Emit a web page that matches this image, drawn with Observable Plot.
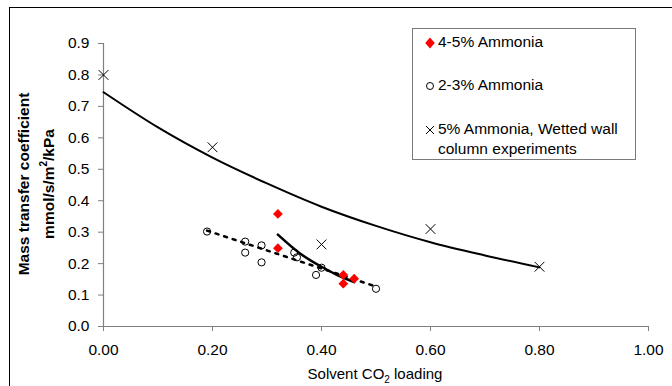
<!DOCTYPE html>
<html><head><meta charset="utf-8">
<script src="https://cdn.jsdelivr.net/npm/d3@7"></script>
<script src="https://cdn.jsdelivr.net/npm/@observablehq/plot@0.6"></script>
<style>
body{margin:0;background:#fff;font-family:"Liberation Sans",Arial,sans-serif;}
#wrap{position:relative;width:672px;height:386px;overflow:hidden;}
#frame{position:absolute;left:9px;top:7px;width:700px;height:400px;border-left:1.5px solid #000;border-top:1.5px solid #000;}
#legend{position:absolute;left:412px;top:28px;width:222px;height:130px;border:1.5px solid #7a7a7a;background:#fff;font-size:15.5px;color:#000;}
.li{position:absolute;left:12px;white-space:nowrap;}
.li svg{vertical-align:middle;margin-right:3px;}
#xlab{position:absolute;left:0;width:750px;top:365px;text-align:center;font-size:15px;}
.ylab{position:absolute;font-weight:bold;font-size:15.5px;white-space:nowrap;transform:translate(-50%,-50%) rotate(-90deg);}
</style></head>
<body><div id="wrap"><div id="frame"></div><div id="chart"></div>
<div id="legend">
 <div class="li" style="top:4px"><svg width="10" height="12"><path d="M5,0.5L9.8,6L5,11.5L0.2,6Z" fill="#ff0000"/></svg>4-5% Ammonia</div>
 <div class="li" style="top:47px"><svg width="10" height="12"><circle cx="5" cy="6" r="3.5" fill="none" stroke="#000"/></svg>2-3% Ammonia</div>
 <div class="li" style="top:90px;line-height:20px"><svg width="10" height="12"><path d="M1,2L9,10M9,2L1,10" stroke="#000" stroke-width="1"/></svg>5% Ammonia, Wetted wall<br><span style="padding-left:13px">column experiments</span></div>
</div>
<div id="xlab">Solvent CO<sub style="font-size:10px">2</sub> loading</div>
<div class="ylab" style="left:24px;top:184px">Mass transfer coefficient</div>
<div class="ylab" style="left:48px;top:184px">mmol/s/m<sup style="font-size:10px">2</sup>/kPa</div>
</div>
<script>
// 4-5% Ammonia (red diamonds)
const a45X = [0.32, 0.32, 0.44, 0.46, 0.44];
const a45Y = [0.358, 0.249, 0.164, 0.152, 0.136];
// 2-3% Ammonia (open circles)
const a23X = [0.19, 0.26, 0.26, 0.29, 0.29, 0.35, 0.355, 0.39, 0.40, 0.50];
const a23Y = [0.302, 0.270, 0.235, 0.258, 0.204, 0.235, 0.220, 0.164, 0.187, 0.120];
// 5% Ammonia, wetted wall column (crosses)
const wwX = [0.00, 0.20, 0.40, 0.60, 0.80];
const wwY = [0.80, 0.57, 0.261, 0.31, 0.19];
// fitted curve for wetted wall data
const fitWwX = [0, 0.1, 0.2, 0.3, 0.4, 0.5, 0.6, 0.7, 0.8];
const fitWwY = [0.745, 0.633, 0.537, 0.455, 0.381, 0.32, 0.268, 0.226, 0.188];
// fitted curve for 4-5% data
const fit45X = [0.32, 0.36, 0.40, 0.43, 0.46];
const fit45Y = [0.292, 0.233, 0.19, 0.163, 0.141];
// dotted trend for 2-3% data
const trend23X = [0.19, 0.495];
const trend23Y = [0.305, 0.13];
const xTicks = [0, 0.2, 0.4, 0.6, 0.8, 1.0];
const yTicks = [0, 0.1, 0.2, 0.3, 0.4, 0.5, 0.6, 0.7, 0.8, 0.9];

const zip = (xs, ys) => xs.map((x, i) => ({x, y: ys[i]}));
const d45 = zip(a45X, a45Y), d23 = zip(a23X, a23Y), dww = zip(wwX, wwY);
const axisColor = "#808080";

const chart = Plot.plot({
  width: 672, height: 386,
  marginLeft: 103, marginRight: 24, marginTop: 43, marginBottom: 60,
  style: {fontFamily: "Liberation Sans, Arial, sans-serif", fontSize: "15px", background: "transparent"},
  x: {domain: [0, 1], axis: null},
  y: {domain: [0, 0.9], axis: null},
  marks: [
    Plot.ruleX([0], {y1: 0, y2: 0.9, stroke: axisColor, strokeWidth: 1.2}),
    Plot.ruleY([0], {x1: 0, x2: 1, stroke: axisColor, strokeWidth: 1.2}),
    Plot.axisX({ticks: xTicks, tickFormat: d3.format(".2f"), tickSize: 5, tickPadding: 12, stroke: axisColor, color: "#000", label: null, fontSize: 15.5}),
    Plot.axisY({ticks: yTicks, tickFormat: d3.format(".1f"), tickSize: 5, tickPadding: 9, stroke: axisColor, color: "#000", label: null, fontSize: 15.5}),
    Plot.line(zip(trend23X, trend23Y), {x: "x", y: "y", stroke: "#000", strokeWidth: 2.5, strokeDasharray: "3,6"}),
    Plot.line(zip(fitWwX, fitWwY), {x: "x", y: "y", stroke: "#000", strokeWidth: 2, curve: "monotone-x"}),
    Plot.line(zip(fit45X, fit45Y), {x: "x", y: "y", stroke: "#000", strokeWidth: 2.5, curve: "natural"}),
    Plot.dot(d23, {x: "x", y: "y", r: 3.6, stroke: "#000", strokeWidth: 1, fill: "none"}),
    Plot.dot(d45, {x: "x", y: "y", r: 4.4, symbol: "diamond2", fill: "#ff0000", stroke: "none"}),
    Plot.dot(dww, {x: "x", y: "y", r: 4.5, symbol: "times", stroke: "#000", strokeWidth: 1})
  ]
});
document.getElementById("chart").appendChild(chart);
</script>
</body></html>
